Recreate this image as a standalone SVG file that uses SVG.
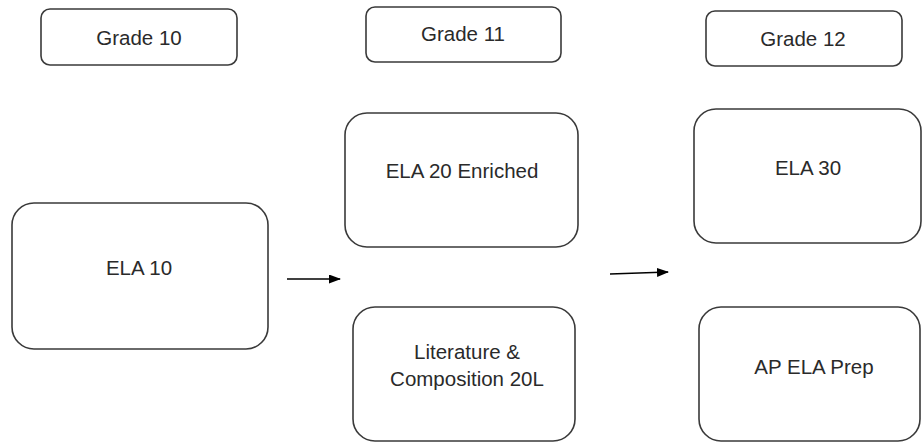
<svg xmlns="http://www.w3.org/2000/svg" width="922" height="442" viewBox="0 0 922 442">
<defs>
<style>
.box{fill:#fff;stroke:#3a3a3a;stroke-width:1.6}
.t{font-family:"Liberation Sans",Arial,sans-serif;font-size:20.5px;fill:#2a2a2a;text-anchor:middle;dominant-baseline:central}
.c{stroke:#000;stroke-width:1.6;fill:none}
</style>
<marker id="ah" markerWidth="12" markerHeight="9" refX="11" refY="4.5" orient="auto" markerUnits="userSpaceOnUse">
<path d="M0,0 L12,4.5 L0,9 Z" fill="#000"/>
</marker>
</defs>
<rect width="922" height="442" fill="#fff"/>
<g id="grade10"><rect class="box" x="41" y="9" width="196" height="56" rx="9"/><text class="t" x="139" y="37">Grade 10</text></g>
<g id="grade11"><rect class="box" x="366" y="7" width="195" height="55" rx="9"/><text class="t" x="463" y="33">Grade 11</text></g>
<g id="grade12"><rect class="box" x="706" y="11" width="196" height="55" rx="9"/><text class="t" x="803" y="38">Grade 12</text></g>
<g id="ela10"><rect class="box" x="12" y="203" width="256" height="146" rx="22"/><text class="t" x="139" y="267">ELA 10</text></g>
<g id="ela20"><rect class="box" x="345" y="113" width="233" height="134" rx="22"/><text class="t" x="462" y="170">ELA 20 Enriched</text></g>
<g id="lit20"><rect class="box" x="353" y="307" width="222" height="134" rx="22"/><text class="t" x="467" y="351">Literature &amp;</text><text class="t" x="467" y="378">Composition 20L</text></g>
<g id="ela30"><rect class="box" x="694" y="109" width="227" height="134" rx="22"/><text class="t" x="808" y="167">ELA 30</text></g>
<g id="apela"><rect class="box" x="699" y="307" width="221" height="134" rx="22"/><text class="t" x="814" y="366">AP ELA Prep</text></g>
<g id="connectors">
<line class="c" x1="287" y1="279" x2="340" y2="279" marker-end="url(#ah)"/>
<line class="c" x1="610" y1="274" x2="668" y2="272" marker-end="url(#ah)"/>
</g>
</svg>
